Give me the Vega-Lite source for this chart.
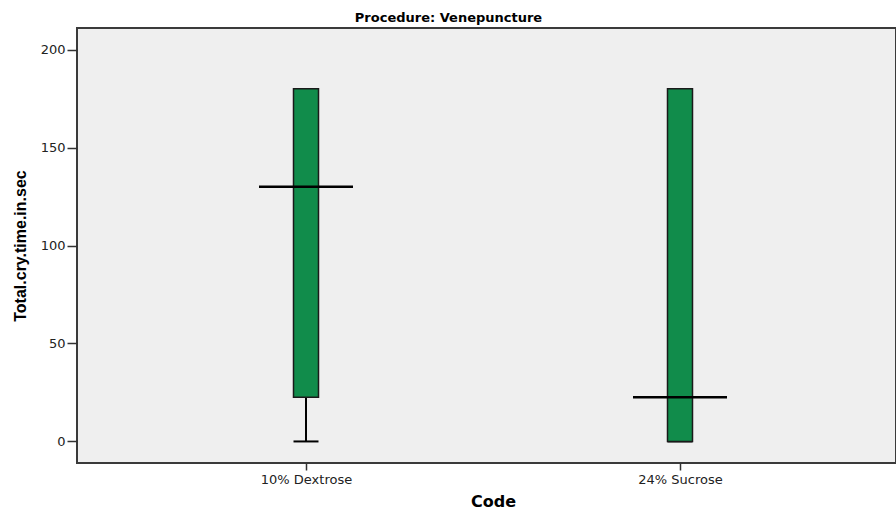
{
  "$schema": "https://vega.github.io/schema/vega-lite/v6.json",
  "width": 819,
  "height": 435,
  "autosize": "none",
  "padding": {"left": 77, "top": 28, "right": 0, "bottom": 46},
  "background": "white",
  "title": {
    "text": "Procedure: Venepuncture",
    "font": "DejaVu Sans",
    "fontSize": 13,
    "fontWeight": "bold",
    "color": "#000000",
    "anchor": "middle",
    "dx": -38,
    "offset": 3
  },
  "config": {
    "view": {"fill": "#EFEFEF", "stroke": "#3a3a3a", "strokeWidth": 2},
    "axis": {
      "grid": false,
      "domain": false,
      "tickColor": "#333333",
      "tickWidth": 1.5,
      "labelFont": "DejaVu Sans",
      "labelFontSize": 13,
      "labelColor": "#222222",
      "titleColor": "#000000"
    }
  },
  "data": {
    "values": [
      {"code": "10% Dextrose", "lower": 0, "q1": 22.5, "median": 130, "q3": 180, "upper": 180},
      {"code": "24% Sucrose", "lower": 0, "q1": 0, "median": 22.5, "q3": 180, "upper": 180}
    ]
  },
  "encoding": {
    "x": {
      "field": "code",
      "type": "nominal",
      "scale": {"type": "point", "range": [229, 603], "padding": 0},
      "axis": {
        "title": "Code",
        "titleFont": "DejaVu Sans",
        "titleFontSize": 16,
        "titleFontWeight": "bold",
        "titleX": 416,
        "titleY": 43,
        "titleBaseline": "alphabetic",
        "labelAngle": 0,
        "tickSize": 7,
        "labelPadding": 3
      }
    }
  },
  "layer": [
    {
      "mark": {"type": "rule", "color": "#000000", "strokeWidth": 2},
      "encoding": {
        "y": {
          "field": "lower",
          "type": "quantitative",
          "scale": {"domain": [-11, 211], "nice": false, "zero": false},
          "axis": {
            "title": "Total.cry.time.in.sec",
            "titleFont": "Liberation Sans",
            "titleFontSize": 16,
            "titleFontWeight": "bold",
            "titlePadding": 12,
            "values": [0, 50, 100, 150, 200],
            "tickSize": 10,
            "labelPadding": 2
          }
        },
        "y2": {"field": "q1"}
      }
    },
    {
      "mark": {"type": "tick", "color": "#000000", "opacity": 1, "thickness": 2, "size": 25},
      "encoding": {"y": {"field": "lower", "type": "quantitative"}}
    },
    {
      "mark": {"type": "bar", "fill": "#118C4B", "stroke": "#1a1a1a", "strokeWidth": 1.5, "size": 25},
      "encoding": {
        "y": {"field": "q1", "type": "quantitative"},
        "y2": {"field": "q3"}
      }
    },
    {
      "mark": {"type": "tick", "color": "#000000", "opacity": 1, "thickness": 2.5, "size": 94},
      "encoding": {"y": {"field": "median", "type": "quantitative"}}
    }
  ]
}
